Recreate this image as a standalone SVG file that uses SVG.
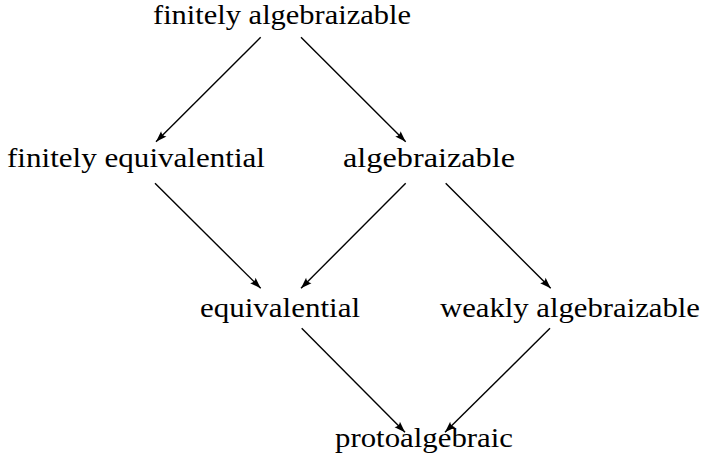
<svg xmlns="http://www.w3.org/2000/svg" width="703" height="471" viewBox="0 0 703 471">
<defs>
<style>
.lbl{font-family:"Liberation Serif","DejaVu Serif",serif;font-size:28px;fill:#000;text-anchor:middle}
.top{font-size:26.5px}
.edge{stroke:#000;stroke-width:1.4;fill:none;marker-end:url(#ah)}
</style>
<marker id="ah" markerUnits="userSpaceOnUse" markerWidth="14" markerHeight="10" viewBox="-12 -5 14 10" refX="0" refY="0" orient="auto">
<path d="M0,0 L-11,-3.8 Q-8,0 -11,3.8 Z" fill="#000"/>
</marker>
</defs>
<rect width="703" height="471" fill="#fff"/>
<g id="connectors">
<line class="edge" x1="260.7" y1="37.3" x2="156" y2="141.7"/>
<line class="edge" x1="301" y1="37.3" x2="405.7" y2="141.7"/>
<line class="edge" x1="155" y1="183.3" x2="260.7" y2="288.3"/>
<line class="edge" x1="405.7" y1="183.3" x2="301" y2="288.3"/>
<line class="edge" x1="445.7" y1="183.3" x2="550.7" y2="288.3"/>
<line class="edge" x1="301.7" y1="328.3" x2="405" y2="432.3"/>
<line class="edge" x1="550" y1="328.3" x2="445" y2="432.3"/>
</g>
<g id="finitely-algebraizable"><text class="lbl top" x="282" y="24" textLength="258" lengthAdjust="spacingAndGlyphs">finitely algebraizable</text></g>
<g id="finitely-equivalential"><text class="lbl" x="136" y="167" textLength="258" lengthAdjust="spacingAndGlyphs">finitely equivalential</text></g>
<g id="algebraizable"><text class="lbl" x="429" y="167" textLength="172" lengthAdjust="spacingAndGlyphs">algebraizable</text></g>
<g id="equivalential"><text class="lbl" x="280" y="317" textLength="160" lengthAdjust="spacingAndGlyphs">equivalential</text></g>
<g id="weakly-algebraizable"><text class="lbl" x="570" y="317" textLength="260" lengthAdjust="spacingAndGlyphs">weakly algebraizable</text></g>
<g id="protoalgebraic"><text class="lbl" x="424" y="447" textLength="178" lengthAdjust="spacingAndGlyphs">protoalgebraic</text></g>
</svg>
